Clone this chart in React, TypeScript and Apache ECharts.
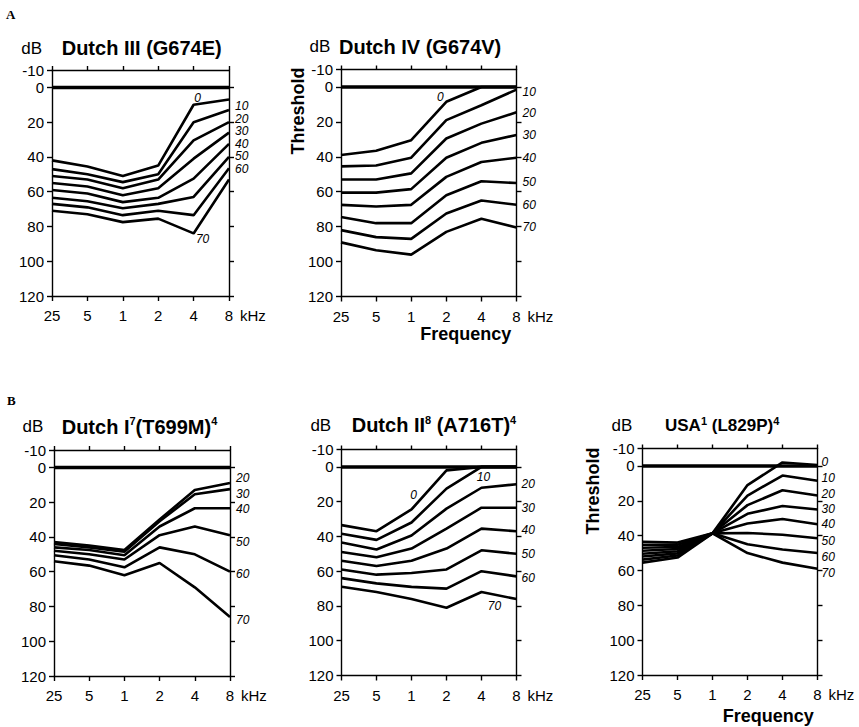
import React, { useEffect, useRef } from "react";
import * as echarts from "echarts";

// ---------- data ----------
const freqs = ["25", "5", "1", "2", "4", "8"];
const yTickValues = [-10, 0, 20, 40, 60, 80, 100, 120];
const rightTickValues = [0, 20, 40, 60, 80, 100, 120];
const zeroLine = [0, 0, 0, 0, 0, 0];

// Dutch III (G674E)
const dutch3Levels = ["0", "10", "20", "30", "40", "50", "60", "70"];
const dutch3_0 = [42, 45.5, 51, 45, 10, 7];
const dutch3_10 = [47, 50, 54.5, 50, 20, 13];
const dutch3_20 = [51, 53, 58, 53, 30.5, 20];
const dutch3_30 = [55, 57, 62, 58, 41, 26];
const dutch3_40 = [59, 61, 66, 63.5, 52.5, 32.5];
const dutch3_50 = [63.5, 65.5, 69.5, 67, 63, 40];
const dutch3_60 = [67, 69, 73.5, 71, 73.5, 46.5];
const dutch3_70 = [71, 73, 77.5, 75.5, 84, 53];

// Dutch IV (G674V)
const dutch4Levels = ["0", "10", "20", "30", "40", "50", "60", "70"];
const dutch4_0 = [39, 36.5, 30.5, 8.5, 0, 0];
const dutch4_10 = [45.5, 45, 40.5, 19, 10.5, 1.5];
const dutch4_20 = [53, 53, 49.5, 29.5, 21, 14.5];
const dutch4_30 = [60.5, 60.5, 58.5, 40.5, 32, 27.5];
const dutch4_40 = [67.5, 68.5, 67.5, 51.5, 43, 40.5];
const dutch4_50 = [74.5, 78, 78, 62, 54, 55];
const dutch4_60 = [82, 86, 87, 72.5, 65, 67.5];
const dutch4_70 = [89, 93.5, 96, 83, 75.5, 80.5];

// Dutch I (T699M)
const dutch1Levels = ["20", "30", "40", "50", "60", "70"];
const dutch1_20 = [43, 45, 47.5, 30, 13, 9];
const dutch1_30 = [44, 46, 48.5, 31, 15.5, 12.5];
const dutch1_40 = [46, 47.5, 50.5, 34, 23.5, 23.5];
const dutch1_50 = [48, 50, 53, 39, 34, 39];
const dutch1_60 = [50.5, 53, 57.5, 46, 50, 60];
const dutch1_70 = [54, 56.5, 62, 55, 69, 86];

// Dutch II (A716T)
const dutch2Levels = ["0", "10", "20", "30", "40", "50", "60", "70"];
const dutch2_0 = [33.5, 37, 24.5, 2, 0, 0];
const dutch2_10 = [38.5, 42, 32, 12.5, 0, 0];
const dutch2_20 = [43.5, 47.5, 39.5, 24, 12, 10];
const dutch2_30 = [49, 52, 47, 35.5, 23.5, 23.5];
const dutch2_40 = [54, 57, 54, 47, 35.5, 37];
const dutch2_50 = [59, 62, 61, 59, 48, 50];
const dutch2_60 = [64, 67, 69, 70, 60, 63];
const dutch2_70 = [69, 72, 76, 81, 72, 76];

// USA (L829P)
const usaLevels = ["0", "10", "20", "30", "40", "50", "60", "70"];
const usa_0 = [43.5, 44, 38.7, 11, -2, -0.5];
const usa_10 = [45.2, 45.2, 38.7, 17, 5.5, 8.5];
const usa_20 = [47, 46.5, 38.7, 22.5, 14, 17];
const usa_30 = [48.7, 47.7, 38.7, 27.5, 23, 25];
const usa_40 = [50.4, 49, 38.7, 33, 30.5, 33.5];
const usa_50 = [52, 50.2, 38.7, 38.5, 39.5, 41.5];
const usa_60 = [53.8, 51.4, 38.7, 45, 48, 50];
const usa_70 = [55.5, 52.6, 38.7, 50, 55.5, 59];

// ---------- layout ----------
const FONT = "'Liberation Sans', Arial, Helvetica, sans-serif";
const SERIF = "'Liberation Serif', 'Times New Roman', serif";

type LabelSpec = { i: number; pos: string; off: number[]; dist?: number };

const R = (dy: number, dist = 6): LabelSpec => ({ i: 5, pos: "right", off: [0, dy], dist });

const panels = [
  {
    grid: { left: 52, top: 70, width: 177, height: 226 },
    levels: dutch3Levels,
    values: [dutch3_0, dutch3_10, dutch3_20, dutch3_30, dutch3_40, dutch3_50, dutch3_60, dutch3_70],
    labels: [
      { i: 4, pos: "inside", off: [4, -7] },
      R(-4), R(-3.5), R(-1.5), R(0), R(-0.5), R(0.5),
      { i: 4, pos: "inside", off: [9, 6] },
    ] as LabelSpec[],
  },
  {
    grid: { left: 341, top: 69.5, width: 175.5, height: 227 },
    levels: dutch4Levels,
    values: [dutch4_0, dutch4_10, dutch4_20, dutch4_30, dutch4_40, dutch4_50, dutch4_60, dutch4_70],
    labels: [
      { i: 3, pos: "inside", off: [-6, -5] },
      R(2), R(1), R(0), R(0), R(-1), R(0), R(-1),
    ] as LabelSpec[],
  },
  {
    grid: { left: 54, top: 450, width: 176, height: 226 },
    levels: dutch1Levels,
    values: [dutch1_20, dutch1_30, dutch1_40, dutch1_50, dutch1_60, dutch1_70],
    labels: [R(-5), R(5), R(1), R(7), R(2), R(3.5)] as LabelSpec[],
  },
  {
    grid: { left: 341.5, top: 449.5, width: 175, height: 226 },
    levels: dutch2Levels,
    values: [dutch2_0, dutch2_10, dutch2_20, dutch2_30, dutch2_40, dutch2_50, dutch2_60, dutch2_70],
    labels: [
      { i: 2, pos: "inside", off: [2, -14] },
      { i: 4, pos: "inside", off: [2, 10] },
      R(0, 5), R(0, 5), R(-1, 5), R(0, 5), R(2, 5),
      { i: 4, pos: "inside", off: [13, 14] },
    ] as LabelSpec[],
  },
  {
    grid: { left: 642.5, top: 448.5, width: 175, height: 226.5 },
    levels: usaLevels,
    values: [usa_0, usa_10, usa_20, usa_30, usa_40, usa_50, usa_60, usa_70],
    labels: [R(-3.5, 4), R(-2.5, 4), R(-2, 4), R(0, 4), R(0, 4), R(3, 4), R(3.5, 4), R(4, 4)] as LabelSpec[],
  },
];

const axisLineStyle = { color: "#000", width: 1.4 };

function buildOption() {
  const grid: any[] = [];
  const xAxis: any[] = [];
  const yAxis: any[] = [];
  const series: any[] = [];

  panels.forEach((p, g) => {
    grid.push({ ...p.grid, containLabel: false });
    xAxis.push({
      gridIndex: g,
      type: "category",
      data: freqs,
      boundaryGap: false,
      position: "bottom",
      axisLine: { show: true, onZero: false, lineStyle: axisLineStyle },
      axisTick: { show: true, interval: 0, length: 5, lineStyle: axisLineStyle },
      axisLabel: { interval: 0, color: "#000", fontSize: 15, fontFamily: FONT, margin: 12 },
      splitLine: { show: false },
      name: "kHz",
      nameLocation: "end",
      nameGap: 11,
      nameTextStyle: {
        color: "#000",
        fontSize: 15,
        fontFamily: FONT,
        verticalAlign: "top",
        padding: [12, 0, 0, 0],
      },
    });
    xAxis.push({
      gridIndex: g,
      type: "category",
      data: freqs,
      boundaryGap: false,
      position: "top",
      axisLine: { show: true, onZero: false, lineStyle: axisLineStyle },
      axisTick: { show: true, interval: 0, length: 4, lineStyle: axisLineStyle },
      axisLabel: { show: false },
      splitLine: { show: false },
    });
    yAxis.push({
      gridIndex: g,
      type: "value",
      inverse: true,
      min: -10,
      max: 120,
      position: "left",
      axisLine: { show: true, onZero: false, lineStyle: axisLineStyle },
      axisTick: { show: true, length: 5, lineStyle: axisLineStyle, customValues: yTickValues },
      axisLabel: {
        show: true,
        customValues: yTickValues,
        color: "#000",
        fontSize: 15,
        fontFamily: FONT,
        margin: 8,
      },
      splitLine: { show: false },
    });
    yAxis.push({
      gridIndex: g,
      type: "value",
      inverse: true,
      min: -10,
      max: 120,
      position: "right",
      axisLine: { show: true, onZero: false, lineStyle: axisLineStyle },
      axisTick: { show: true, length: 5, lineStyle: axisLineStyle, customValues: rightTickValues },
      axisLabel: { show: false },
      splitLine: { show: false },
    });

    series.push({
      type: "line",
      xAxisIndex: 2 * g,
      yAxisIndex: 2 * g,
      data: zeroLine,
      symbol: "none",
      silent: true,
      lineStyle: { color: "#000", width: 3.5 },
      z: 2,
    });

    p.values.forEach((vals, k) => {
      const spec = p.labels[k];
      const lvl = p.levels[k];
      series.push({
        type: "line",
        name: `${g}-${lvl}`,
        xAxisIndex: 2 * g,
        yAxisIndex: 2 * g,
        symbol: "circle",
        symbolSize: 0,
        showSymbol: true,
        silent: true,
        itemStyle: { color: "#000", borderWidth: 0 },
        lineStyle: { color: "#000", width: 2.6 },
        label: { show: false },
        z: 3,
        data: vals.map((v, j) =>
          j === spec.i
            ? {
                value: v,
                label: {
                  show: true,
                  formatter: lvl,
                  position: spec.pos,
                  distance: spec.dist ?? 5,
                  offset: spec.off,
                  color: "#000",
                  fontSize: 12,
                  lineHeight: 11,
                  fontStyle: "italic",
                  fontFamily: FONT,
                },
              }
            : v
        ),
      });
    });
  });

  const txt = (x: number, y: number, text: string, font: string, align = "left", rotation = 0) => ({
    type: "text",
    x,
    y,
    rotation,
    silent: true,
    style: { text, font, fill: "#000", align, verticalAlign: "middle" },
  });

  const richTitle = (x: number, y: number, text: string, size: number) => ({
    type: "text",
    x,
    y,
    silent: true,
    style: {
      text,
      fill: "#000",
      align: "left",
      verticalAlign: "middle",
      rich: {
        m: { fontSize: size, fontWeight: "bold", fontFamily: FONT, lineHeight: size + 2, fill: "#000" },
        s: { fontSize: 11, fontWeight: "bold", fontFamily: FONT, lineHeight: 12, verticalAlign: "top", fill: "#000" },
      },
    },
  });

  const graphic = [
    txt(6, 14.5, "A", `bold 13px ${SERIF}`),
    txt(7, 400, "B", `bold 13px ${SERIF}`),
    txt(31.7, 48, "dB", `17px ${FONT}`, "center"),
    txt(61.7, 48, "Dutch III (G674E)", `bold 20px ${FONT}`),
    txt(320, 46.7, "dB", `17px ${FONT}`, "center"),
    txt(339, 46.7, "Dutch IV (G674V)", `bold 20px ${FONT}`),
    txt(297.5, 111, "Threshold", `bold 18px ${FONT}`, "center", Math.PI / 2),
    txt(465.7, 334, "Frequency", `bold 18px ${FONT}`, "center"),
    txt(33, 426.7, "dB", `17px ${FONT}`, "center"),
    richTitle(61.7, 426.7, "{m|Dutch I}{s|7}{m|(T699M)}{s|4}", 20),
    txt(320.8, 425, "dB", `17px ${FONT}`, "center"),
    richTitle(351.7, 425, "{m|Dutch II}{s|8}{m| (A716T)}{s|4}", 20),
    txt(622, 425, "dB", `17px ${FONT}`, "center"),
    richTitle(665, 425, "{m|USA}{s|1}{m| (L829P)}{s|4}", 17),
    txt(593.3, 491, "Threshold", `bold 18px ${FONT}`, "center", Math.PI / 2),
    txt(768.3, 716, "Frequency", `bold 18px ${FONT}`, "center"),
  ];

  return {
    animation: false,
    backgroundColor: "#fff",
    grid,
    xAxis,
    yAxis,
    series,
    graphic,
  };
}

export default function App() {
  const ref = useRef<HTMLDivElement>(null);
  useEffect(() => {
    if (!ref.current) return;
    const chart = echarts.init(ref.current, undefined, { renderer: "svg" });
    chart.setOption(buildOption() as any);
    return () => chart.dispose();
  }, []);
  return (
    <div
      ref={ref}
      style={{ position: "fixed", left: 0, top: 0, width: 859, height: 727, background: "#fff" }}
    />
  );
}
